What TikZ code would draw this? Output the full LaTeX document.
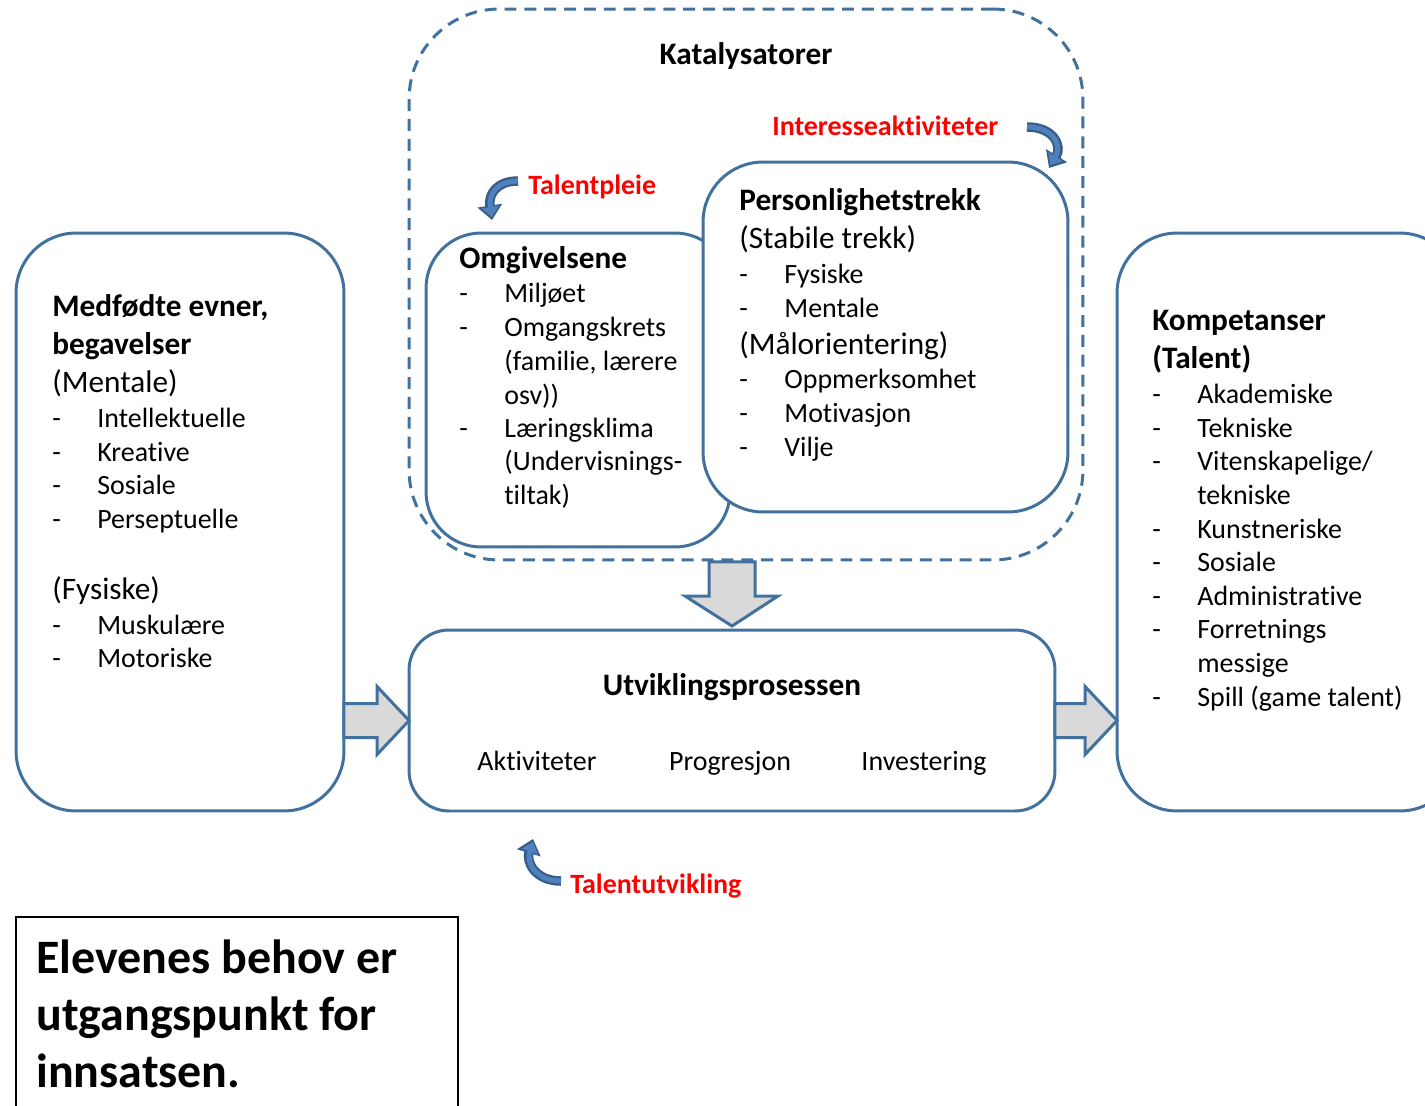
\documentclass[tikz,border=0pt]{standalone}
\usepackage{fontspec}
\setmainfont{Carlito}[Ligatures={NoCommon,NoContextual}]
\usetikzlibrary{arrows.meta,calc}
\definecolor{kantblaa}{RGB}{65,113,156}
\definecolor{pilblaa}{RGB}{79,129,189}
\definecolor{pilmork}{RGB}{56,93,138}
\definecolor{pilgraa}{RGB}{217,217,217}
\newcommand{\brodtekst}{\fontsize{15.9}{19}\selectfont}
\newcommand{\overskrift}{\fontsize{17.8}{21}\selectfont}
\newcommand{\stortekst}{\fontsize{27.3}{32}\selectfont\bfseries}
% dash + text on one line, x of the text, baseline y
\newcommand{\strek}[4]{%
  \node[tekst] (#1-d) at (#2-45,#3) {-};
  \node[tekst] (#1) at (#2,#3) {#4};}

\begin{document}
\begin{tikzpicture}[x=0.02cm,y=-0.02cm,
  boks/.style={draw=kantblaa,line width=1.7pt,fill=white,rounded corners=1.2cm,
    inner sep=0pt,outer sep=0pt},
  tekst/.style={anchor=base west,font=\brodtekst,inner sep=0pt},
  hode/.style={anchor=base west,font=\overskrift,inner sep=0pt},
  rod/.style={anchor=base west,font=\brodtekst\bfseries,text=red,inner sep=0pt},
  blokkpil/.style={draw=kantblaa,line width=1.7pt,fill=pilgraa,line join=miter},
  bue/.style={line width=5.4pt,draw=pilmork,-{Triangle[width=0.48cm,length=0.29cm]}},
  bueinne/.style={line width=2.8pt,draw=pilblaa,-{Triangle[width=0.33cm,length=0.2cm]}}]
\useasboundingbox (0,0) rectangle (1425,1105);
\clip (0,0) rectangle (1425,1105);

% boxes
\node[boks,dashed,dash pattern=on 6.8pt off 4.5pt,fill=none,rounded corners=1.8cm,
  minimum width=13.48cm,minimum height=11.02cm] (katalysatorer) at (746,284.5) {};
\node[boks,rounded corners=1.1cm,minimum width=6.08cm,minimum height=6.28cm] (omgivelsene) at (578,390) {};
\node[boks,minimum width=7.3cm,minimum height=7cm] (personlighet) at (885.5,337) {};
\node[boks,minimum width=6.56cm,minimum height=11.56cm] (medfodte) at (180,522) {};
\node[boks,rounded corners=0.8cm,minimum width=12.92cm,minimum height=3.62cm] (utvikling) at (732,720.5) {};
\node[boks,minimum width=6.86cm,minimum height=11.56cm] (kompetanser) at (1288.5,522) {};
\node[draw=black,line width=1.2pt,inner sep=0pt,minimum width=8.84cm,minimum height=4.4cm] (behov) at (237,1027) {};

% block arrows
\path (medfodte.east |- utvikling.west) coordinate (va) (utvikling.west) coordinate (vb);
\draw[blokkpil] ($(va)+(0,-17)$) -- ($(vb)+(-32,-17)$) -- ($(vb)+(-32,-34)$) -- (vb)
  -- ($(vb)+(-32,34)$) -- ($(vb)+(-32,17)$) -- ($(va)+(0,17)$) -- cycle;
\path (utvikling.east) coordinate (ha) (kompetanser.west |- utvikling.east) coordinate (hb);
\draw[blokkpil] ($(ha)+(0,-17)$) -- ($(hb)+(-32,-17)$) -- ($(hb)+(-32,-34)$) -- (hb)
  -- ($(hb)+(-32,34)$) -- ($(hb)+(-32,17)$) -- ($(ha)+(0,17)$) -- cycle;
\path (utvikling.north |- katalysatorer.south) coordinate (na) ($(utvikling.north)+(0,-4)$) coordinate (nb);
\draw[blokkpil] ($(na)+(-23,2)$) -- ($(na)+(23,2)$) -- ($(nb)+(23,-30)$) -- ($(nb)+(46,-30)$) -- (nb)
  -- ($(nb)+(-47,-30)$) -- ($(nb)+(-23,-30)$) -- cycle;

% curved arrows
\coordinate (pleie-a) at (518,181);
\coordinate (pleie-b) at (492,220);
\draw[bue] (pleie-a) .. controls (497,181) and (488,194) .. (pleie-b);
\draw[bueinne] (pleie-a) .. controls (497,181) and (488,194) .. ($(pleie-b)+(0,-3)$);
\coordinate (int-a) at (1027,127);
\coordinate (int-b) at (1049,168);
\draw[bue] (int-a) .. controls (1055,127) and (1062,147) .. (int-b);
\draw[bueinne] (int-a) .. controls (1055,127) and (1062,147) .. ($(int-b)+(1,-3)$);
\coordinate (utv-a) at (561,881);
\coordinate (utv-b) at (533,839);
\draw[bue] (utv-a) .. controls (535,881) and (526,862) .. (utv-b);
\draw[bueinne] (utv-a) .. controls (535,881) and (526,862) .. ($(utv-b)+(0,3)$);

% labels
\node[anchor=base,font=\overskrift\bfseries,inner sep=0pt] (kat-t) at (746,65) {Katalysatorer};
\node[rod] (interesse) at (772,135) {Interesseaktiviteter};
\node[rod] (talentpleie) at (528,194) {Talentpleie};
\node[rod] (talentutvikling) at (570,893) {Talentutvikling};

% left box
\node[hode,font=\overskrift\bfseries] (med-1) at (52,316) {Medfødte evner,};
\node[hode,font=\overskrift\bfseries] (med-2) at (52,354) {begavelser};
\node[hode] (med-3) at (52,392) {(Mentale)};
\strek{med-a}{97}{427}{Intellektuelle}
\strek{med-b}{97}{461}{Kreative}
\strek{med-c}{97}{494}{Sosiale}
\strek{med-d}{97}{528}{Perseptuelle}
\node[hode] (med-4) at (52,599) {(Fysiske)};
\strek{med-e}{97}{634}{Muskulære}
\strek{med-f}{97}{667}{Motoriske}

% Omgivelsene
\node[hode,font=\overskrift\bfseries] (omg-1) at (459,268) {Omgivelsene};
\strek{omg-a}{504}{302}{Miljøet}
\strek{omg-b}{504}{336}{Omgangskrets}
\node[tekst] (omg-b2) at (504,370) {(familie, lærere};
\node[tekst] (omg-b3) at (504,404) {osv))};
\strek{omg-c}{504}{437}{Læringsklima}
\node[tekst] (omg-c2) at (504,470) {(Undervisnings-};
\node[tekst] (omg-c3) at (504,504) {tiltak)};

% Personlighetstrekk
\node[hode,font=\overskrift\bfseries] (per-1) at (739,210) {Personlighetstrekk};
\node[hode] (per-2) at (739,248) {(Stabile trekk)};
\strek{per-a}{784}{283}{Fysiske}
\strek{per-b}{784}{317}{Mentale}
\node[hode] (per-3) at (739,354) {(Målorientering)};
\strek{per-c}{784}{388}{Oppmerksomhet}
\strek{per-d}{784}{422}{Motivasjon}
\strek{per-e}{784}{456}{Vilje}

% Kompetanser
\node[hode,font=\overskrift\bfseries] (kom-1) at (1152,330) {Kompetanser};
\node[hode,font=\overskrift\bfseries] (kom-2) at (1152,368) {(Talent)};
\strek{kom-a}{1197}{403}{Akademiske}
\strek{kom-b}{1197}{437}{Tekniske}
\strek{kom-c}{1197}{470}{Vitenskapelige/}
\node[tekst] (kom-c2) at (1197,504) {tekniske};
\strek{kom-d}{1197}{538}{Kunstneriske}
\strek{kom-e}{1197}{571}{Sosiale}
\strek{kom-f}{1197}{605}{Administrative}
\strek{kom-g}{1197}{638}{Forretnings}
\node[tekst] (kom-g2) at (1197,672) {messige};
\strek{kom-h}{1197}{706}{Spill (game talent)}

% Utviklingsprosessen
\node[anchor=base,font=\overskrift\bfseries,inner sep=0pt] (utv-t) at (732,695) {Utviklingsprosessen};
\node[anchor=base,font=\brodtekst,inner sep=0pt] (aktiviteter) at (537,770) {Aktiviteter};
\node[anchor=base,font=\brodtekst,inner sep=0pt] (progresjon) at (730,770) {Progresjon};
\node[anchor=base,font=\brodtekst,inner sep=0pt] (investering) at (924,770) {Investering};

% bottom box
\node[anchor=base west,font=\stortekst,inner sep=0pt] (behov-1) at (36,973) {Elevenes behov er};
\node[anchor=base west,font=\stortekst,inner sep=0pt] (behov-2) at (36,1030) {utgangspunkt for};
\node[anchor=base west,font=\stortekst,inner sep=0pt] (behov-3) at (36,1087) {innsatsen.};
\end{tikzpicture}
\end{document}
